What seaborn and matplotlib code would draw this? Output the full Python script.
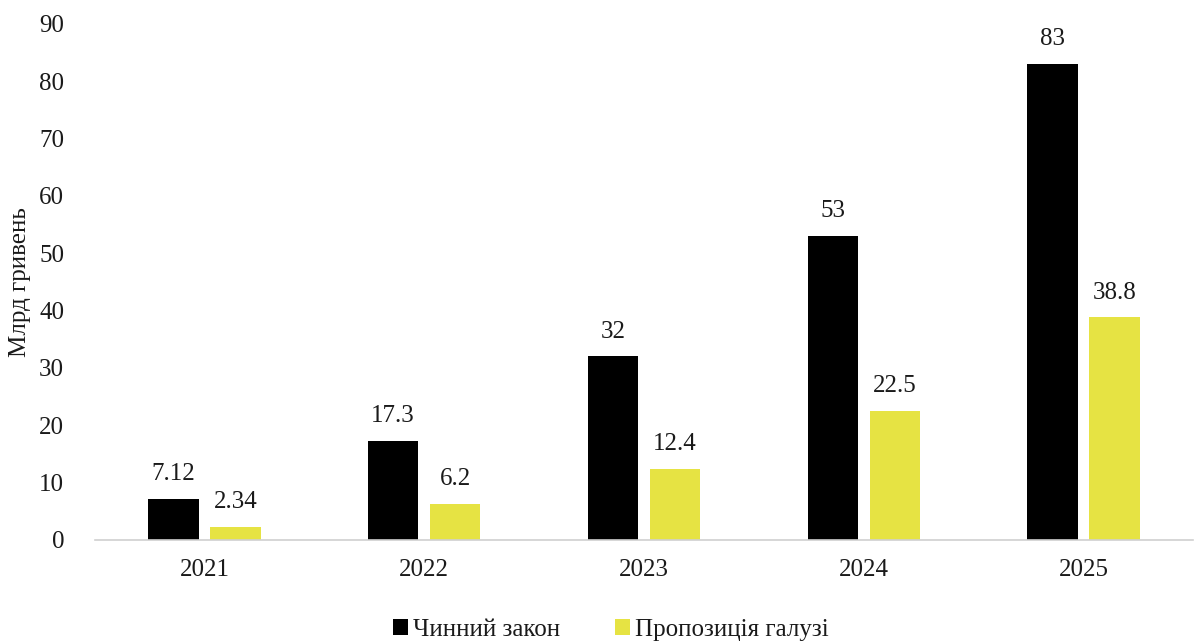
import pandas as pd
import matplotlib.pyplot as plt
import seaborn as sns

# Дані
years = ['2021', '2022', '2023', '2024', '2025']
chynnyi = [7.12, 17.3, 32, 53, 83]
propozytsia = [2.34, 6.2, 12.4, 22.5, 38.8]
series_names = ['Чинний закон', 'Пропозиція галузі']
labels_chynnyi = ['7.12', '17.3', '32', '53', '83']
labels_propozytsia = ['2.34', '6.2', '12.4', '22.5', '38.8']

df = pd.DataFrame({
    'Рік': years * 2,
    'Значення': chynnyi + propozytsia,
    'Серія': [series_names[0]] * len(years) + [series_names[1]] * len(years),
})

sns.set_style('white')
plt.rcParams['font.family'] = ['Liberation Serif', 'DejaVu Serif']

fig = plt.figure(figsize=(11.97, 6.42), dpi=100)
ax = fig.add_axes([0.079, 0.159, 0.918, 0.804])

sns.barplot(data=df, x='Рік', y='Значення', hue='Серія',
            palette=['#000000', '#E6E343'], width=0.564, gap=0.19,
            saturation=1, linewidth=0, ax=ax, legend=True)

for cont, labs in zip(ax.containers, [labels_chynnyi, labels_propozytsia]):
    ax.bar_label(cont, labels=labs, padding=10, fontsize=18, color='#1a1a1a')

ax.set_ylim(0, 90)
ax.set_yticks(range(0, 91, 10))
ax.set_xlim(-0.5, 4.5)
ax.set_xlabel('')
ax.set_ylabel('Млрд гривень', fontsize=18, color='#1a1a1a', labelpad=6)
ax.tick_params(axis='both', labelsize=18, colors='#1a1a1a', length=0)
ax.tick_params(axis='y', pad=22)
ax.tick_params(axis='x', pad=14)

for s in ['top', 'right', 'left']:
    ax.spines[s].set_visible(False)
ax.spines['bottom'].set_color('#d0d0d0')
ax.spines['bottom'].set_linewidth(1.2)

handles, lbls = ax.get_legend_handles_labels()
ax.legend(handles, lbls, loc='lower center', bbox_to_anchor=(0.47, -0.225),
          ncol=2, frameon=False, fontsize=18, handlelength=0.6, handleheight=0.6,
          handletextpad=0.2, columnspacing=2.2, labelcolor='#1a1a1a',
          borderpad=0.1)

fig.savefig('out.png', dpi=100)
